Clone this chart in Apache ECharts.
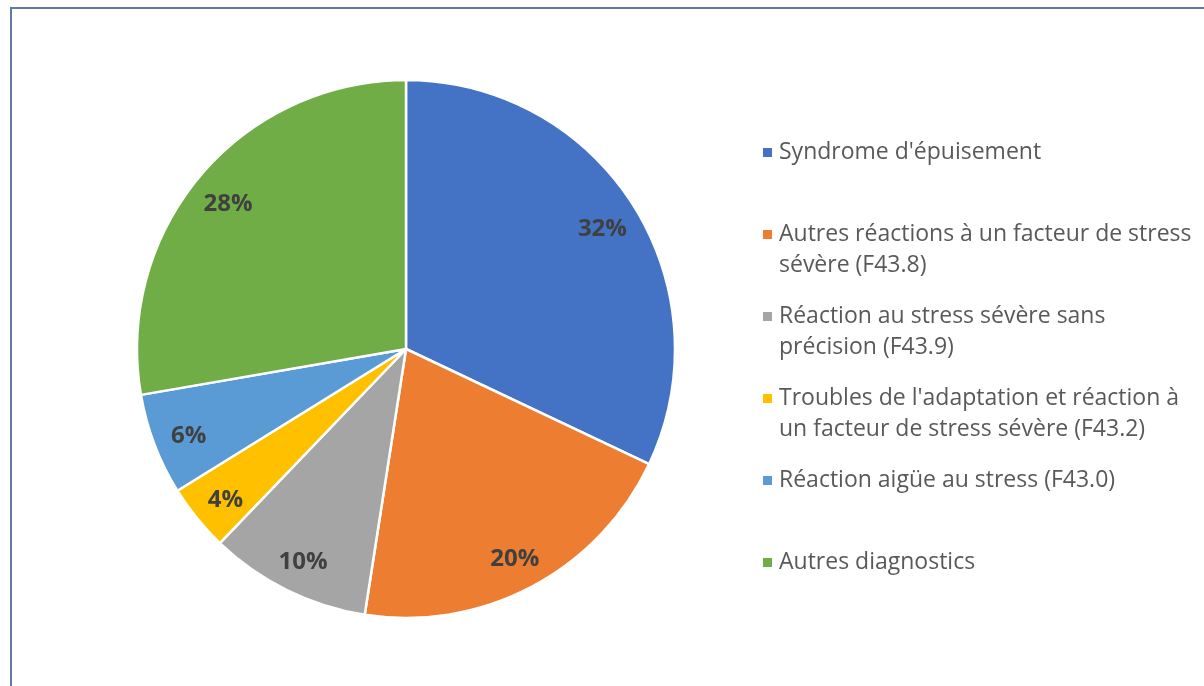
<!DOCTYPE html>
<html>
<head>
<meta charset="utf-8">
<script src="https://cdn.jsdelivr.net/npm/echarts@6/dist/echarts.min.js"></script>
<style>
  html, body { margin: 0; padding: 0; background: #fff; }
  #chart { width: 1204px; height: 686px; }
</style>
</head>
<body>
<div id="chart"></div>
<script>
// categories and values (share of cases, %)
var categories = [
  "Syndrome d'épuisement",
  "Autres réactions à un facteur de stress sévère (F43.8)",
  "Réaction au stress sévère sans précision (F43.9)",
  "Troubles de l'adaptation et réaction à un facteur de stress sévère (F43.2)",
  "Réaction aigüe au stress (F43.0)",
  "Autres diagnostics"
];
var values = [32.0, 20.4, 9.7, 4.0, 6.1, 27.7];
// legend text as wrapped in the picture
var legendLines = [
  ["Syndrome d'épuisement"],
  ["Autres réactions à un facteur de stress", "sévère (F43.8)"],
  ["Réaction au stress sévère sans", "précision (F43.9)"],
  ["Troubles de l'adaptation et réaction à", "un facteur de stress sévère (F43.2)"],
  ["Réaction aigüe au stress (F43.0)"],
  ["Autres diagnostics"]
];
var colors = ["#4472C4", "#ED7D31", "#A5A5A5", "#FFC000", "#5B9BD5", "#70AD47"];

var font = "'Open Sans', Lato, sans-serif";

var chart = echarts.init(document.getElementById("chart"), null, { renderer: "canvas" });

var pieData = categories.map(function (c, i) {
  return { name: c, value: values[i] };
});

// rich styles for legend squares
var rich = {
  t: { fontSize: 23, lineHeight: 31, color: "#595959", fontFamily: font },
  sp: { width: 7 },
  ind: { width: 16 }
};
colors.forEach(function (c, i) {
  rich["sq" + i] = { backgroundColor: c, width: 9, height: 9 };
});

var option = {
  backgroundColor: "#ffffff",
  color: colors,
  animation: false,
  graphic: [
    {
      type: "rect",
      shape: { x: 11, y: 8, width: 1400, height: 900 },
      style: { fill: null, stroke: "#5F7BA3", lineWidth: 2 },
      silent: true
    }
  ],
  legend: {
    orient: "vertical",
    left: 758,
    top: 137,
    padding: 0,
    icon: "none",
    itemWidth: 0,
    itemHeight: 0,
    itemGap: 20,
    data: categories,
    textStyle: { fontSize: 23, lineHeight: 31, color: "#595959", fontFamily: font, rich: rich },
    formatter: function (name) {
      var i = categories.indexOf(name);
      var lines = legendLines[i];
      var s = "{sq" + i + "| }{sp|}{t|" + lines[0] + "}";
      if (lines.length > 1) {
        s += "\n{ind|}{t|" + lines[1] + "}";
      } else {
        s += "\n{ind|}{t| }";
      }
      return s;
    }
  },
  series: [
    {
      type: "pie",
      center: [406, 349],
      radius: 269,
      startAngle: 90,
      clockwise: true,
      avoidLabelOverlap: false,
      itemStyle: { borderColor: "#ffffff", borderWidth: 2.5 },
      label: { show: false },
      labelLine: { show: false },
      emphasis: { disabled: true },
      data: pieData
    },
    {
      // transparent ring used only to place percentage labels near the rim
      type: "pie",
      center: [406, 354],
      radius: [190, 269],
      startAngle: 90,
      clockwise: true,
      silent: true,
      avoidLabelOverlap: false,
      itemStyle: { color: "rgba(0,0,0,0)", borderWidth: 0 },
      label: {
        show: true,
        position: "inside",
        fontSize: 24,
        fontWeight: "bold",
        color: "#404040",
        fontFamily: font,
        formatter: function (p) {
          return Math.round(p.percent) + "%";
        }
      },
      labelLine: { show: false },
      emphasis: { disabled: true },
      data: pieData
    }
  ]
};

chart.setOption(option);
</script>
</body>
</html>
